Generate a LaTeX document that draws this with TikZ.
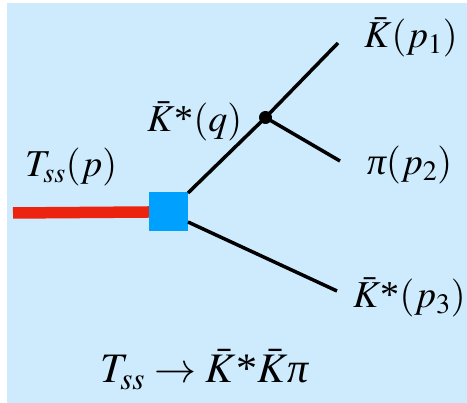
\documentclass[tikz,border=0pt]{standalone}
\usepackage{mathptmx}
\usepackage{fontspec}
\newfontfamily\lserif{Liberation Serif}
\newcommand{\st}{\mbox{\lserif *}}
\newcommand{\ipi}{\mbox{\lserif\itshape π}}
\definecolor{bgblue}{RGB}{205,235,253}
\definecolor{sqblue}{RGB}{0,160,255}
\definecolor{tred}{RGB}{235,35,15}
\tikzset{
  lbl/.style={anchor=base west, inner sep=0pt, font=\fontsize{38}{40}\selectfont},
  leg/.style={line width=3.5pt, black},
}
\begin{document}
\begin{tikzpicture}[x=1pt,y=1pt]
\useasboundingbox (0,0) rectangle (467,403);
\fill[white] (0,0) rectangle (467,403);
\fill[bgblue] (7,0) rectangle (467,400);
% vertex and endpoints
\node[fill=sqblue, minimum size=39pt, inner sep=0pt] (sq) at (168.5,191) {};
\coordinate (start) at (13,190);
\coordinate (k1) at (338,360);
\coordinate (pi) at (340,242);
\coordinate (k3) at (337,112);
\coordinate (sqa) at (188,210);
\coordinate (sqb) at (188,181);
\node[circle, fill=black, minimum size=13pt, inner sep=0pt] (dot) at (265.5,285.5) {};
% lines
\draw[tred, line width=11.5pt] (start) -- (sq.west);
\draw[leg] (sqa) -- (dot.center) -- (k1);
\draw[leg] (dot.center) -- (pi);
\draw[leg] (sqb) -- (k3);
% labels
\node[lbl] (lk1) at (364,355) {$\bar{K}(p_1)$};
\node[lbl] (lpi) at (367,228) {$\ipi(p_2)$};
\node[lbl] (lk3) at (353,95) {$\bar{K}\st(p_3)$};
\node[lbl] (lq) at (147,271) {$\bar{K}\st(q)$};
\node[lbl] (lt) at (25,226) {$T_{ss}(p)$};
\node[lbl, font=\fontsize{42}{44}\selectfont] (title) at (100,20) {$T_{ss}\rightarrow\bar{K}\st\bar{K}\ipi$};
\end{tikzpicture}
\end{document}
